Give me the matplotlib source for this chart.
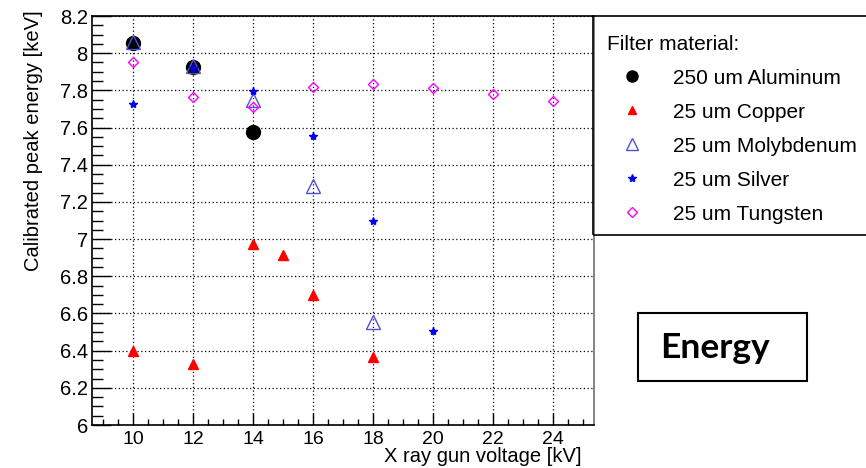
import matplotlib
matplotlib.use("Agg")
import matplotlib.pyplot as plt
from matplotlib.lines import Line2D
from matplotlib.patches import Rectangle
from matplotlib.ticker import MultipleLocator

plt.rcParams['font.family'] = ['Liberation Sans', 'DejaVu Sans']

# data
al_x = [10, 12, 14]
al_y = [8.055, 7.925, 7.575]
cu_x = [10, 12, 14, 15, 16, 18]
cu_y = [6.40, 6.33, 6.975, 6.915, 6.70, 6.365]
mo_x = [10, 12, 14, 16, 18]
mo_y = [8.06, 7.93, 7.75, 7.285, 6.555]
ag_x = [10, 12, 14, 16, 18, 20]
ag_y = [7.725, 7.92, 7.795, 7.555, 7.10, 6.505]
w_x = [10, 12, 14, 16, 18, 20, 22, 24]
w_y = [7.955, 7.765, 7.71, 7.82, 7.832, 7.815, 7.78, 7.745]

labels = ["250 um Aluminum", "25 um Copper", "25 um Molybdenum",
          "25 um Silver", "25 um Tungsten"]

W, H = 866, 468
fig = plt.figure(figsize=(W / 100, H / 100), dpi=100)
ax = fig.add_axes([92 / W, 1 - 425 / H, 502 / W, 409 / H])

# series, in drawing order
h_al, = ax.plot(al_x, al_y, 'o', color='black', markersize=10, linestyle='none')
h_cu, = ax.plot(cu_x, cu_y, '^', color='red', markersize=7, linestyle='none')
h_mo, = ax.plot(mo_x, mo_y, '^', markerfacecolor='none', markeredgecolor='#5050d8',
                markeredgewidth=1.0, markersize=10, linestyle='none')
h_ag, = ax.plot(ag_x, ag_y, '*', color='#0000ee', markersize=6, linestyle='none')
h_w, = ax.plot(w_x, w_y, 'D', markerfacecolor='none', markeredgecolor='#ff00ff',
               markeredgewidth=1.0, markersize=5, linestyle='none')

ax.set_xlim(8.63, 25.37)
ax.set_ylim(6, 8.2)
ax.xaxis.set_major_locator(MultipleLocator(2))
ax.xaxis.set_minor_locator(MultipleLocator(0.5))
ax.yaxis.set_major_locator(MultipleLocator(0.2))
ax.yaxis.set_minor_locator(MultipleLocator(0.05))
ax.set_xticks([10, 12, 14, 16, 18, 20, 22, 24])
ax.set_yticks([6, 6.2, 6.4, 6.6, 6.8, 7, 7.2, 7.4, 7.6, 7.8, 8, 8.2])
ax.set_yticklabels(['6', '6.2', '6.4', '6.6', '6.8', '7', '7.2', '7.4', '7.6', '7.8', '8', '8.2'])
ax.grid(True, which='major', color='black', linestyle=(0, (1, 2)), linewidth=0.9)

ax.tick_params(axis='y', which='major', direction='in', length=14, width=1,
               labelsize=14.5, pad=3, right=False)
ax.tick_params(axis='y', which='minor', direction='in', length=8, width=1, right=False)
ax.tick_params(axis='x', which='major', direction='in', length=9, width=1,
               labelsize=14, pad=4, top=False)
ax.tick_params(axis='x', which='minor', direction='in', length=4, width=1, top=False)
for s in ax.spines.values():
    s.set_linewidth(1.2)
ax.spines['right'].set_color('#707070')

fig.text(34 / W, 1 - 10 / H, "Calibrated peak energy [keV]", rotation=90,
         ha='center', va='top', fontsize=14.5)
fig.text(581 / W, 1 - 457 / H, "X ray gun voltage [kV]", ha='right',
         va='center', fontsize=14.5)

# legend box
fig.patches.append(Rectangle((593 / W, 1 - 235 / H), 300 / W, 219 / H,
                             transform=fig.transFigure, fill=False,
                             edgecolor='black', linewidth=1.2))
handles = [
    Line2D([], [], marker='o', color='black', markersize=8, linestyle='none'),
    Line2D([], [], marker='^', color='red', markersize=6, linestyle='none'),
    Line2D([], [], marker='^', markerfacecolor='none', markeredgecolor='#5050d8',
           markersize=8, linestyle='none'),
    Line2D([], [], marker='*', color='#0000ee', markersize=6, linestyle='none'),
    Line2D([], [], marker='D', markerfacecolor='none', markeredgecolor='#ff00ff',
           markersize=5, linestyle='none'),
]
leg = fig.legend(handles, labels, title="Filter material:", loc='upper left',
                 bbox_to_anchor=(592 / W, 1 - 20 / H), frameon=False,
                 fontsize=15, title_fontsize=15, labelspacing=0.72,
                 handletextpad=0.8, borderpad=0.2, handlelength=2.4,
                 alignment='left')

# "Energy" box
fig.patches.append(Rectangle((638 / W, 1 - 381 / H), 169 / W, 68 / H,
                             transform=fig.transFigure, fill=False,
                             edgecolor='black', linewidth=1.5))
fig.text(715 / W, 1 - 348 / H, "Energy", ha='center', va='center',
         fontsize=25.5, fontweight='bold', family=['Lato', 'DejaVu Sans'])

fig.savefig("out.png", dpi=100)
